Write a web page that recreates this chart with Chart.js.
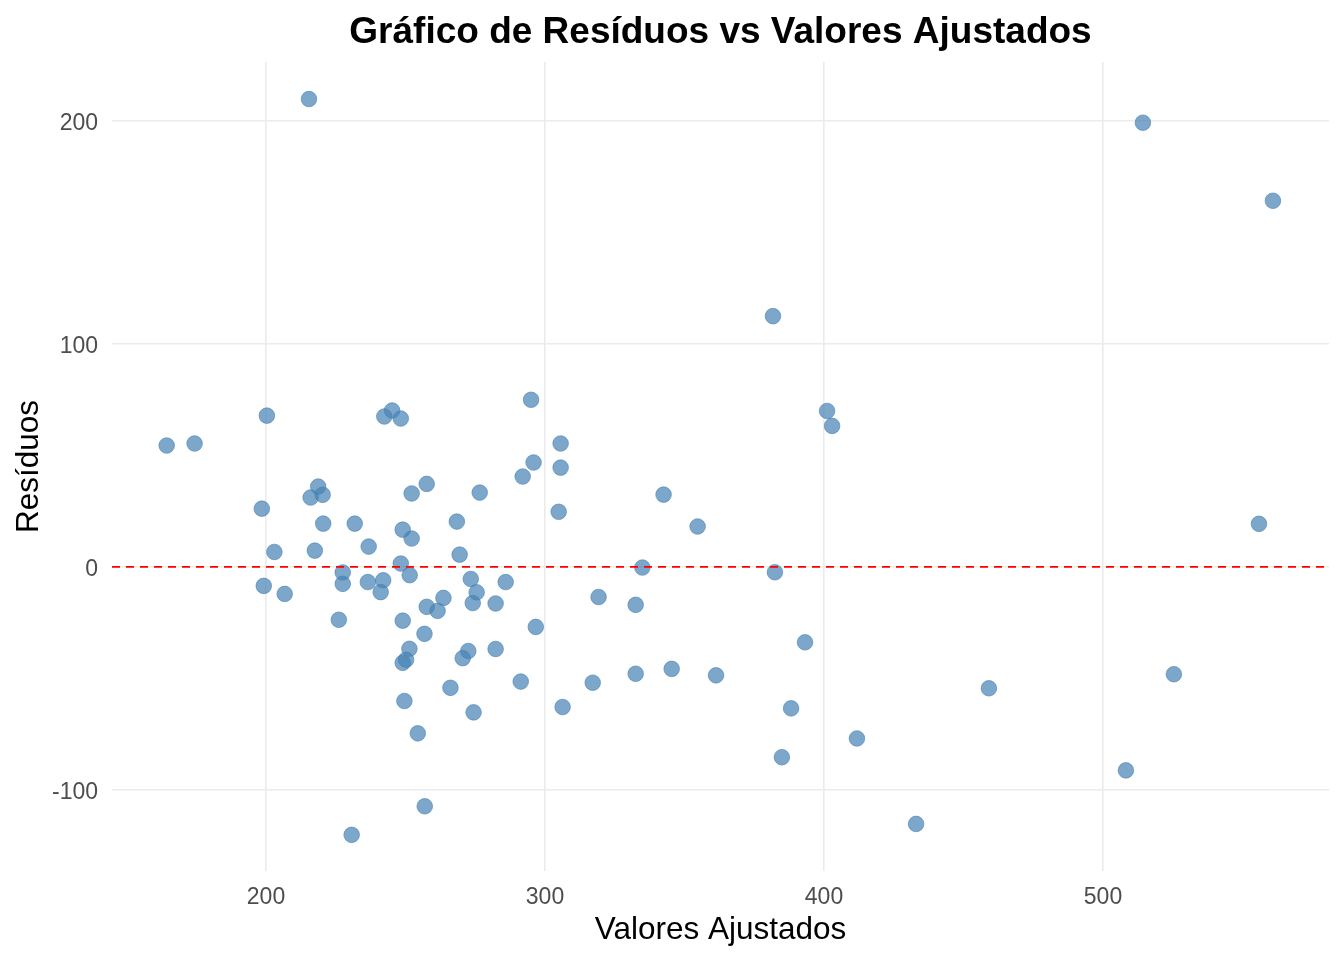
<!DOCTYPE html>
<html lang="pt">
<head>
<meta charset="utf-8">
<title>Gráfico de Resíduos vs Valores Ajustados</title>
<script src="https://cdn.jsdelivr.net/npm/chart.js@4.4.1/dist/chart.umd.min.js"></script>
<style>
  html, body { margin: 0; padding: 0; background: #ffffff; }
  #wrap { width: 1344px; height: 960px; }
</style>
</head>
<body>
<div id="wrap"><canvas id="residChart" width="1344" height="960"></canvas></div>
<script>
// Valores ajustados (eixo x) e resíduos (eixo y)
const fittedValues = [
  215.4, 514.3, 560.9, 381.7, 295.0, 401.1, 402.9, 164.4, 174.4, 200.3,
  242.4, 245.2, 248.3, 305.6, 295.9, 305.6, 292.0, 257.6, 218.7, 216.0,
  220.3, 252.2, 276.6, 342.5, 198.5, 304.9, 220.5, 231.8, 268.4, 354.7,
  555.9, 249.0, 252.2, 236.8, 203.0, 217.5, 269.4, 248.3, 334.9, 227.5,
  382.4, 251.5, 273.4, 236.5, 242.0, 285.9, 227.5, 199.2, 206.7, 241.1,
  275.5, 319.2, 263.6, 274.1, 282.3, 257.6, 332.5, 261.5, 226.1, 249.0,
  296.7, 256.8, 393.2, 251.4, 272.5, 282.3, 270.5, 250.2, 249.0, 345.4,
  332.5, 361.3, 525.4, 317.1, 291.3, 266.1, 459.1, 249.6, 306.3, 388.2,
  274.4, 254.4, 411.8, 384.9, 508.2, 256.9, 433.0, 230.7
];
const residuals = [
  209.7, 199.1, 164.1, 112.4, 74.9, 69.9, 63.2, 54.4, 55.3, 67.8,
  67.4, 70.1, 66.5, 55.3, 46.8, 44.5, 40.5, 37.2, 36.0, 31.1,
  32.3, 32.9, 33.3, 32.4, 26.1, 24.7, 19.4, 19.4, 20.3, 18.1,
  19.3, 16.7, 12.7, 9.1, 6.7, 7.3, 5.5, 1.5, -0.3, -2.5,
  -2.4, -3.7, -5.4, -6.8, -6.0, -6.8, -7.6, -8.5, -12.1, -11.3,
  -11.4, -13.5, -13.9, -16.2, -16.4, -17.9, -17.0, -19.7, -23.7, -24.1,
  -26.9, -30.0, -33.8, -36.7, -37.7, -36.8, -40.9, -41.6, -43.0, -45.7,
  -47.9, -48.6, -48.1, -51.9, -51.4, -54.2, -54.4, -60.1, -62.8, -63.4,
  -65.2, -74.6, -76.9, -85.3, -91.2, -107.3, -115.2, -120.1
];
const xTicks = [200, 300, 400, 500];
const yTicks = [-100, 0, 100, 200];
const xLimits = [144.8, 581.0];
const yLimits = [-136.3, 226.3];
const referenceLine = 0;

const fontFamily = '"Liberation Sans", Arial, Helvetica, sans-serif';
const gridColor = '#ebebeb';

const points = fittedValues.map((x, i) => ({ x: x, y: residuals[i] }));

const ctx = document.getElementById('residChart').getContext('2d');
new Chart(ctx, {
  type: 'scatter',
  data: {
    datasets: [
      {
        // linha tracejada em y = 0
        type: 'line',
        data: [{ x: xLimits[0], y: referenceLine }, { x: xLimits[1], y: referenceLine }],
        borderColor: '#ff0000',
        borderWidth: 1.6,
        borderDash: [8, 6],
        pointRadius: 0,
        fill: false,
        order: 0
      },
      {
        data: points,
        backgroundColor: 'rgba(70, 130, 180, 0.7)',
        borderColor: 'rgba(70, 130, 180, 0.75)',
        borderWidth: 0.8,
        pointRadius: 7.8,
        pointHoverRadius: 7.8,
        order: 1
      }
    ]
  },
  options: {
    responsive: false,
    devicePixelRatio: 1,
    animation: false,
    layout: { padding: { left: 0, right: 15, top: 0, bottom: 0 } },
    plugins: {
      legend: { display: false },
      tooltip: { enabled: false },
      title: {
        display: true,
        fullSize: false,
        text: 'Gráfico de Resíduos vs Valores Ajustados',
        color: '#000000',
        font: { family: fontFamily, size: 37, weight: 'bold' },
        padding: { top: 10.3, bottom: 7.3 }
      }
    },
    scales: {
      x: {
        type: 'linear',
        min: xLimits[0],
        max: xLimits[1],
        afterBuildTicks: function(scale) {
          scale.ticks = xTicks.map(v => ({ value: v }));
        },
        afterFit: function(scale) { scale.height = 89; },
        grid: { color: gridColor, lineWidth: 1.6, drawTicks: false },
        border: { display: false },
        ticks: {
          color: '#4d4d4d',
          padding: 13,
          font: { family: fontFamily, size: 23 }
        },
        title: {
          display: true,
          text: 'Valores Ajustados',
          color: '#000000',
          font: { family: fontFamily, size: 31.5 },
          padding: { top: 0, bottom: 11 }
        }
      },
      y: {
        type: 'linear',
        min: yLimits[0],
        max: yLimits[1],
        afterBuildTicks: function(scale) {
          scale.ticks = yTicks.map(v => ({ value: v }));
        },
        afterFit: function(scale) { scale.width = 112; },
        grid: { color: gridColor, lineWidth: 1.6, drawTicks: false },
        border: { display: false },
        ticks: {
          color: '#4d4d4d',
          padding: 14,
          labelOffset: 2.5,
          font: { family: fontFamily, size: 23 }
        },
        title: {
          display: true,
          text: 'Resíduos',
          color: '#000000',
          font: { family: fontFamily, size: 31.5 },
          padding: { top: 10, bottom: 0 }
        }
      }
    }
  }
});
</script>
</body>
</html>
